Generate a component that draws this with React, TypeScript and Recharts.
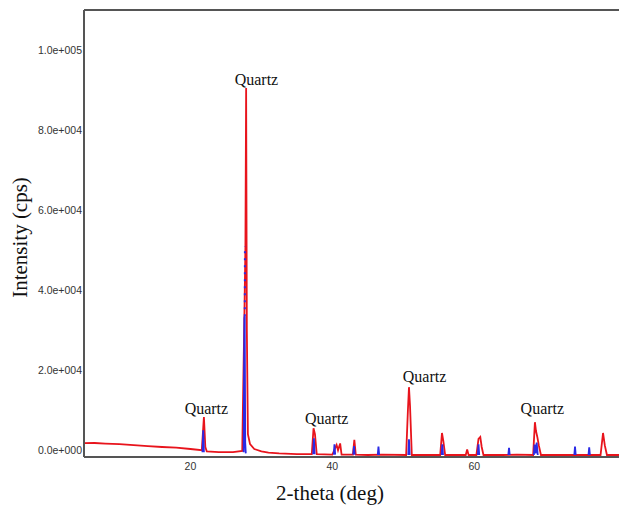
import { Label, LineChart, Line, XAxis, YAxis, ReferenceLine, ReferenceDot } from "recharts"

// red pattern (measured)
const redTheta = [
  5.0, 6.5, 8.0, 10.0, 12.0, 14.0, 16.0, 18.0, 20.0, 21.6, 21.9, 22.1, 22.3, 24.0, 26.0, 27.3,
  27.6, 27.75, 27.85, 27.95, 28.1, 28.4, 29.0, 30.0, 31.0, 32.5, 35.0, 37.1, 37.35, 37.55, 37.8,
  40.0, 40.6, 40.8, 41.1, 41.3, 42.9, 43.1, 43.3, 45.0, 47.0, 50.4, 50.65, 50.8, 50.95, 51.2,
  55.2, 55.45, 55.65, 55.9, 58.8, 59.0, 59.2, 60.3, 60.6, 60.85, 61.05, 61.3, 64.0, 66.0,
  68.3, 68.55, 68.7, 68.9, 69.1, 69.4, 73.0, 77.8, 78.15, 78.4, 78.7, 80.4,
]
const redCounts = [
  1750, 1800, 1650, 1500, 1250, 1000, 800, 650, 300, 0, 8300, 800, -300, -500, -500, -200,
  33000, 51000, 90500, 30000, 4000, 1500, 300, -300, -600, -800, -1000, -1000, 5500, 4000, -1000,
  -1100, 1300, 0, 1700, -1100, -1100, 2600, -1100, -1200, -1100, -1200, 10000, 15750, 11000, -1200,
  -1200, 4300, 2200, -1200, -1200, 200, -1200, -1200, 2800, 3300, 800, -1200, -1200, -1100,
  -1200, 7000, 4800, 3200, 1200, -1200, -1200, -1200, 4300, 1200, -1200, -1200,
]

// blue pattern (reference peaks), null = gap
const blueTheta = [
  21.7, 21.8, 21.9, null,
  27.5, 27.6, 27.65, 27.72, 27.8, null,
  37.3, 37.4, 37.5, null,
  40.2, 40.3, 40.4, null,
  42.95, 43.05, 43.15, null,
  46.4, 46.5, 46.6, null,
  50.7, 50.8, 50.9, null,
  55.4, 55.5, 55.6, null,
  60.5, 60.6, 60.7, null,
  64.8, 64.9, 65.0, null,
  68.4, 68.5, 68.65, 68.8, 68.95, null,
  74.1, 74.2, 74.3, null,
  76.1, 76.2, 76.3,
]
const blueCounts = [
  -500, 5000, -500, null,
  -500, 33000, 33500, 2000, -800, null,
  -1000, 3000, -1000, null,
  -1100, 1500, -1100, null,
  -1100, 1000, -1100, null,
  -1200, 900, -1200, null,
  -1200, 2700, -1200, null,
  -1200, 1500, -1200, null,
  -1200, 1500, -1200, null,
  -1200, 600, -1200, null,
  -1200, 1400, -800, 1900, -1200, null,
  -1200, 900, -1200, null,
  -1200, 700, -1200,
]

// sparse blue points on top of the main peak
const blueTopTheta = [27.66, 27.68]
const blueTopCounts = [33500, 51000]

const quartzTheta = [22.25, 29.3, 39.2, 53.0, 69.6]
const quartzCounts = [10250, 92500, 7750, 18250, 10250]

const xTicks = [20, 40, 60]
const yTicks = [0, 20000, 40000, 60000, 80000, 100000]

const redData = redTheta.map((x, i) => ({ x, y: redCounts[i] }))
const blueData = blueTheta.map((x, i) => ({ x, y: blueCounts[i] }))
const blueTopData = blueTopTheta.map((x, i) => ({ x, y: blueTopCounts[i] }))

const fmtExp = (v: number) => {
  if (v === 0) return "0.0e+000"
  const e = Math.floor(Math.log10(Math.abs(v)))
  const m = v / Math.pow(10, e)
  return `${m.toFixed(1)}e+${String(e).padStart(3, "0")}`
}

const tickStyle = { fontSize: 10.5, fill: "#333", fontFamily: "'Liberation Sans', Arial, sans-serif" }
const serif = "'Liberation Serif', 'Times New Roman', serif"

export default function App() {
  return (
    <div style={{ position: "absolute", left: 0, top: 0, width: 619, height: 507, background: "#fff" }}>
      <LineChart width={619} height={507} margin={{ top: 10, right: 0, bottom: 0, left: 0 }}>
        <XAxis
          dataKey="x"
          type="number"
          domain={[5, 80.4]}
          ticks={xTicks}
          tickLine={false}
          tickSize={0}
          tickMargin={6}
          allowDataOverflow
          height={50}
          axisLine={{ stroke: "#555", strokeWidth: 2 }}
          tick={tickStyle}
        >
          <Label
            content={({ viewBox }: any) => (
              <text x={330} y={viewBox.y + 43} textAnchor="middle" fontSize={21} fontFamily={serif} fill="#111">
                2-theta (deg)
              </text>
            )}
          />
        </XAxis>
        <YAxis
          type="number"
          domain={[-1700, 110000]}
          ticks={yTicks}
          tickFormatter={fmtExp}
          tickLine={false}
          tickSize={0}
          tickMargin={2}
          allowDataOverflow
          width={84}
          axisLine={{ stroke: "#555", strokeWidth: 2 }}
          tick={tickStyle}
        >
          <Label
            content={({ viewBox }: any) => (
              <text
                x={27}
                y={viewBox.y + viewBox.height / 2 + 4}
                transform={`rotate(-90 27 ${viewBox.y + viewBox.height / 2 + 4})`}
                textAnchor="middle"
                fontSize={21}
                fontFamily={serif}
                fill="#111"
              >
                Intensity (cps)
              </text>
            )}
          />
        </YAxis>
        <ReferenceLine y={110000} stroke="#555" strokeWidth={2} />
        <Line
          data={redData}
          dataKey="y"
          stroke="#e8141c"
          strokeWidth={1.8}
          dot={false}
          isAnimationActive={false}
        />
        <Line
          data={blueData}
          dataKey="y"
          stroke="#2a2ae6"
          strokeWidth={1.8}
          dot={false}
          connectNulls={false}
          isAnimationActive={false}
        />
        <Line
          data={blueTopData}
          dataKey="y"
          stroke="#2a2ae6"
          strokeWidth={2}
          strokeDasharray="2 5"
          dot={false}
          isAnimationActive={false}
        />
        {quartzTheta.map((x, i) => (
          <ReferenceDot
            key={i}
            x={x}
            y={quartzCounts[i]}
            r={0}
            label={{
              content: ({ viewBox }: any) => (
                <text
                  x={viewBox.x + viewBox.width / 2}
                  y={viewBox.y + viewBox.height / 2 + 5}
                  textAnchor="middle"
                  fontSize={16}
                  fontFamily={serif}
                  fill="#111"
                >
                  Quartz
                </text>
              ),
            }}
          />
        ))}
      </LineChart>
    </div>
  )
}
